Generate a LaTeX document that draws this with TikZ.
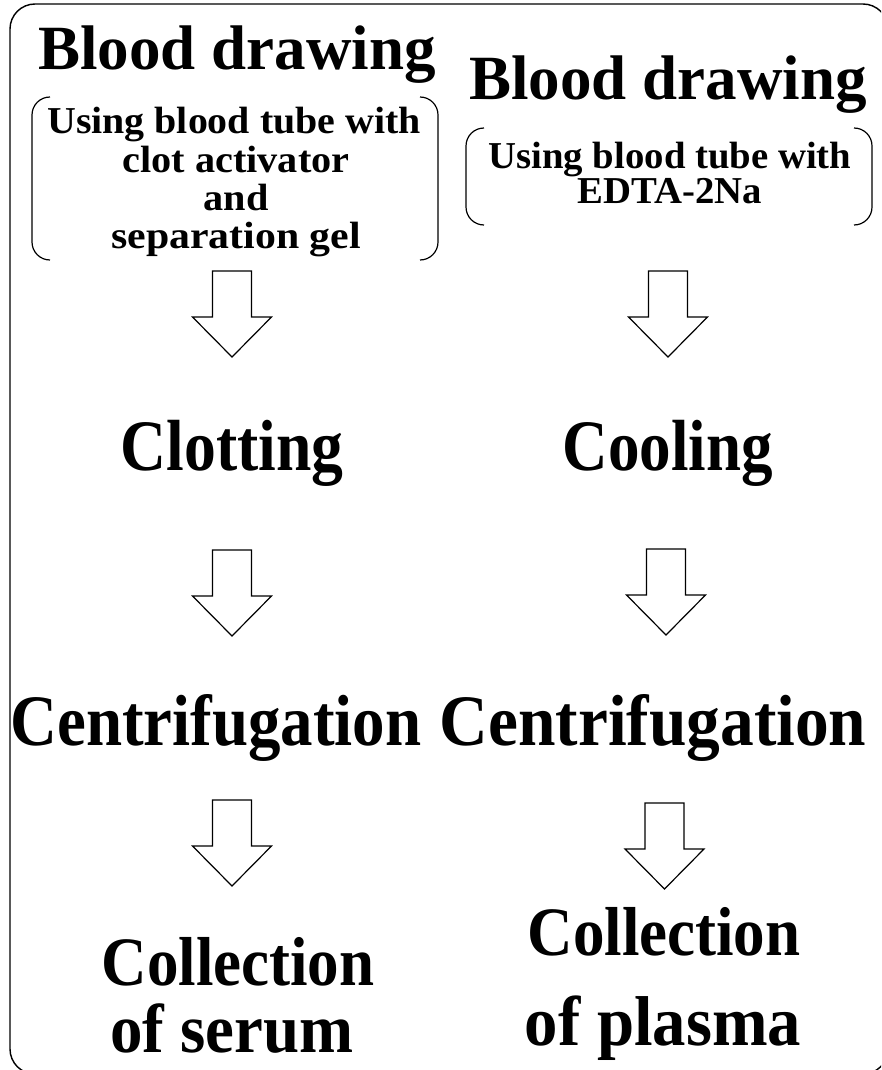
\documentclass[tikz,border=0pt]{standalone}
\usepackage{graphicx}
\usepackage{fontspec}
\setmainfont{Liberation Serif}
\newcommand{\mystretch}[3]{\scalebox{#1}[#2]{#3}}
\begin{document}
\begin{tikzpicture}[x=1pt,y=-1pt,
  title/.style={font=\fontsize{63}{70}\selectfont\bfseries, inner sep=0pt, anchor=base},
  sub/.style={font=\fontsize{38}{38}\selectfont\bfseries, inner sep=0pt, anchor=base},
  frame/.style={line width=1.4pt, rounded corners=25pt},
  brk/.style={line width=1.2pt, rounded corners=18pt},
  blockarrow/.pic={\draw[line width=1.2pt, line join=miter] (-19.5,0) -- (19.5,0) -- (19.5,46) -- (39.5,46) -- (0,86) -- (-39.5,46) -- (-19.5,46) -- cycle;}
]
\useasboundingbox (0,0) rectangle (881,1070);
\clip (0,0) rectangle (881,1070);
\draw[frame] (10,4) rectangle (888,1074);

% left column
\node[title] (bl) at (237,70) {Blood drawing};
\node[sub] (sl1) at (234,133) {\mystretch{1.05}{1}{Using blood tube with}};
\node[sub] (sl2) at (236,172) {\mystretch{1.06}{1}{clot activator}};
\node[sub] (sl3) at (236,210) {\mystretch{1.06}{1}{and}};
\node[sub] (sl4) at (236,248) {\mystretch{1.1}{1}{separation gel}};
\draw[brk] (50,97) -- (32,97) -- (32,260) -- (50,260);
\draw[brk] (420,97) -- (438,97) -- (438,260) -- (420,260);
\pic at (232,271) {blockarrow};
\node[title] (clot) at (232,470) {\mystretch{1.01}{1.15}{Clotting}};
\pic at (232,550) {blockarrow};
\node[title] (cenl) at (216,745) {\mystretch{1.03}{1.15}{Centrifugation}};
\pic at (232,800) {blockarrow};
\node[title] (coll) at (238,985) {\mystretch{1}{1.1}{Collection}};
\node[title] (serum) at (232,1052) {\mystretch{1.03}{1.1}{of serum}};

% right column
\node[title] (br) at (668,100) {Blood drawing};
\node[sub] (sr1) at (670,168) {\mystretch{1.02}{1}{Using blood tube with}};
\node[sub] (sr2) at (670,203) {\mystretch{1.02}{1}{EDTA-2Na}};
\draw[brk] (484,128) -- (466,128) -- (466,225) -- (484,225);
\draw[brk] (854,128) -- (872,128) -- (872,225) -- (854,225);
\pic at (668,271) {blockarrow};
\node[title] (cool) at (668,470) {\mystretch{1}{1.15}{Cooling}};
\pic at (666,549) {blockarrow};
\node[title] (cenr) at (653,745) {\mystretch{1.07}{1.15}{Centrifugation}};
\pic at (664.5,803) {blockarrow};
\node[title] (colr) at (664,955) {\mystretch{1}{1.1}{Collection}};
\node[title] (plasma) at (663,1045) {\mystretch{1.06}{1.12}{of plasma}};
\end{tikzpicture}
\end{document}
